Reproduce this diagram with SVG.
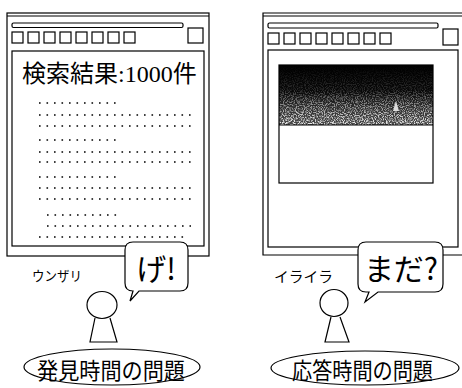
<svg xmlns="http://www.w3.org/2000/svg" width="462" height="388" viewBox="0 0 462 388">
  <style>
    .ln { fill: none; stroke: #000; stroke-width: 1.2; }
    .box { fill: #fff; stroke: #000; stroke-width: 1.2; }
    .dots { stroke: #000; stroke-width: 1.6; stroke-dasharray: 1.6 5.9; }
    .jp { font-family: "Noto Sans CJK JP", "Noto Sans", sans-serif; fill: #000; }
    .num { font-family: "Liberation Serif", serif; fill: #000; }
  </style>
  <defs>
    <linearGradient id="dusk" x1="0" y1="0" x2="0" y2="1">
      <stop offset="0" stop-color="#000"/>
      <stop offset="0.45" stop-color="#080808"/>
      <stop offset="0.7" stop-color="#2e2e2e"/>
      <stop offset="1" stop-color="#4a4a4a"/>
    </linearGradient>
    <linearGradient id="speckleFade" x1="0" y1="0" x2="0" y2="1">
      <stop offset="0" stop-color="#fff" stop-opacity="0"/>
      <stop offset="0.4" stop-color="#fff" stop-opacity="0.15"/>
      <stop offset="1" stop-color="#fff" stop-opacity="0.9"/>
    </linearGradient>
    <filter id="grain" x="0" y="0" width="1" height="1">
      <feTurbulence type="fractalNoise" baseFrequency="0.9" numOctaves="2" seed="5" result="n"/>
      <feColorMatrix in="n" type="matrix" values="0 0 0 0 1  0 0 0 0 1  0 0 0 0 1  4 0 0 0 -1.7" result="s"/>
      <feComposite in="s" in2="SourceGraphic" operator="in"/>
    </filter>
  </defs>

  <rect width="462" height="388" fill="#fff"/>

  <!-- left browser window: search result list -->
  <g id="window-left">
    <rect class="ln" x="7" y="13" width="202" height="243"/>
    <line class="ln" x1="7" y1="16" x2="209" y2="16" stroke-width="0.8"/>
    <rect class="ln" x="12" y="23" width="171" height="4.5" rx="1.5"/>
    <g class="ln">
      <rect x="12" y="32" width="11" height="11"/>
      <rect x="28" y="32" width="11" height="11"/>
      <rect x="44" y="32" width="11" height="11"/>
      <rect x="60" y="32" width="11" height="11"/>
      <rect x="76" y="32" width="11" height="11"/>
      <rect x="92" y="32" width="11" height="11"/>
      <rect x="108" y="32" width="11" height="11"/>
      <rect x="124" y="32" width="11" height="11"/>
      <rect x="188" y="28" width="15" height="15"/>
    </g>
    <rect class="ln" x="12" y="51" width="192" height="195"/>
    <text x="22" y="82" font-size="24"><tspan class="jp">検索結果</tspan><tspan class="num">:1000</tspan><tspan class="jp">件</tspan></text>
    <g>
      <line class="dots" x1="39" y1="103" x2="120" y2="103"/>
      <line class="dots" x1="39" y1="115" x2="191" y2="115"/>
      <line class="dots" x1="39" y1="126" x2="191" y2="126"/>
      <line class="dots" x1="39" y1="140" x2="120" y2="140"/>
      <line class="dots" x1="39" y1="152" x2="191" y2="152"/>
      <line class="dots" x1="39" y1="162" x2="191" y2="162"/>
      <line class="dots" x1="39" y1="177" x2="120" y2="177"/>
      <line class="dots" x1="39" y1="188" x2="191" y2="188"/>
      <line class="dots" x1="39" y1="199" x2="191" y2="199"/>
      <line class="dots" x1="47" y1="215" x2="120" y2="215"/>
      <line class="dots" x1="47" y1="226" x2="191" y2="226"/>
      <line class="dots" x1="39" y1="237" x2="184" y2="237"/>
    </g>
  </g>

  <!-- right browser window: page still loading -->
  <g id="window-right">
    <path class="ln" d="M470 13 H263 V255 H470"/>
    <line class="ln" x1="263" y1="16" x2="462" y2="16" stroke-width="0.8"/>
    <rect class="ln" x="268" y="23" width="170" height="5" rx="1.5"/>
    <g class="ln">
      <rect x="268" y="33" width="11" height="11"/>
      <rect x="284" y="33" width="11" height="11"/>
      <rect x="300" y="33" width="11" height="11"/>
      <rect x="316" y="33" width="11" height="11"/>
      <rect x="332" y="33" width="11" height="11"/>
      <rect x="348" y="33" width="11" height="11"/>
      <rect x="364" y="33" width="11" height="11"/>
      <rect x="380" y="33" width="11" height="11"/>
      <rect x="443" y="29" width="15" height="16"/>
    </g>
    <rect class="ln" x="268" y="50" width="190" height="197"/>
    <!-- partly loaded image -->
    <rect x="279" y="65" width="154" height="60" fill="url(#dusk)"/>
    <rect x="279" y="65" width="154" height="60" fill="url(#speckleFade)" filter="url(#grain)"/>
    <path d="M393 111 L396 101 L399 111 Z" fill="#ddd"/>
    <rect class="ln" x="279" y="65" width="154" height="118"/>
    <line class="ln" x1="279" y1="125" x2="433" y2="125"/>
  </g>

  <!-- speech bubbles -->
  <g id="bubble-left">
    <path class="box" d="M133 242 H180 Q188 242 188 250 V283 Q188 291 180 291 H139 L130 301 L133 291 H133 Q125 291 125 283 V250 Q125 242 133 242 Z"/>
    <text class="jp" x="156" y="280" font-size="30" text-anchor="middle">げ!</text>
  </g>
  <g id="bubble-right">
    <path class="box" d="M366 242 H435 Q443 242 443 250 V284 Q443 292 435 292 H378 L365 302 L369 292 H366 Q358 292 358 284 V250 Q358 242 366 242 Z"/>
    <text class="jp" x="401" y="280" font-size="30" text-anchor="middle">まだ?</text>
  </g>

  <!-- users -->
  <g id="person-left">
    <text class="jp" x="32" y="281" font-size="13.5" textLength="50" lengthAdjust="spacingAndGlyphs">ウンザリ</text>
    <ellipse class="ln" cx="102" cy="305" rx="15" ry="13.5"/>
    <path class="ln" d="M95 318 L90 342 H117 L110 318"/>
  </g>
  <g id="person-right">
    <text class="jp" x="274" y="282" font-size="14.5" textLength="59" lengthAdjust="spacingAndGlyphs">イライラ</text>
    <ellipse class="ln" cx="334" cy="303" rx="14" ry="13.5"/>
    <path class="ln" d="M331 317 L325 342 H349 L340 317"/>
  </g>

  <!-- problem labels -->
  <g id="label-left">
    <ellipse class="box" cx="112" cy="367" rx="88" ry="18"/>
    <text class="jp" x="37" y="379" font-size="23" textLength="148" lengthAdjust="spacingAndGlyphs">発見時間の問題</text>
  </g>
  <g id="label-right">
    <ellipse class="box" cx="365" cy="368" rx="94" ry="17"/>
    <text class="jp" x="292" y="379" font-size="23" textLength="141" lengthAdjust="spacingAndGlyphs">応答時間の問題</text>
  </g>
</svg>
